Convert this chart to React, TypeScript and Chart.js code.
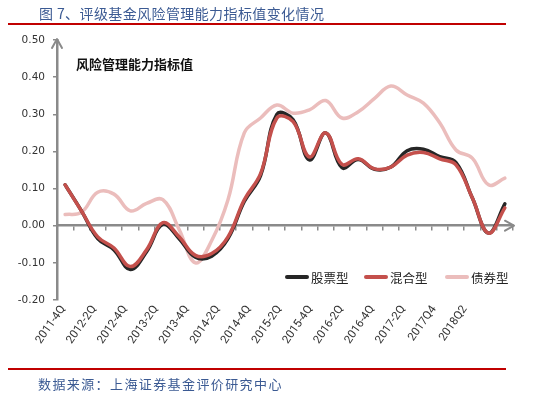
import React, { useEffect, useRef } from "react";
import { Chart, registerables } from "chart.js";

Chart.register(...registerables);

// Quarterly categories (one point per quarter)
const quarters = [
  "2011Q4", "2012Q1", "2012Q2", "2012Q3", "2012Q4", "2013Q1", "2013Q2",
  "2013Q3", "2013Q4", "2014Q1", "2014Q2", "2014Q3", "2014Q4", "2015Q1",
  "2015Q2", "2015Q3", "2015Q4", "2016Q1", "2016Q2", "2016Q3", "2016Q4",
  "2017Q1", "2017Q2", "2017Q3", "2017Q4", "2018Q1", "2018Q2", "2018Q3",
];

// Axis tick labels shown under the chart
const tickLabels = [
  "2011-4Q", "2012-2Q", "2012-4Q", "2013-2Q", "2013-4Q", "2014-2Q", "2014-4Q",
  "2015-2Q", "2015-4Q", "2016-2Q", "2016-4Q", "2017-2Q", "2017Q4", "2018Q2",
];

const yTicks = [-0.2, -0.1, 0, 0.1, 0.2, 0.3, 0.4, 0.5];

const stockValues = [
  0.11, 0.04, -0.035, -0.065, -0.118, -0.07, 0.004, -0.035, -0.085, -0.082,
  -0.035, 0.065, 0.135, 0.3, 0.285, 0.177, 0.25, 0.156, 0.178, 0.152, 0.158,
  0.202, 0.206, 0.186, 0.17, 0.075, -0.02, 0.059,
];

const mixedValues = [
  0.11, 0.04, -0.03, -0.06, -0.11, -0.065, 0.008, -0.03, -0.08, -0.075,
  -0.03, 0.07, 0.14, 0.29, 0.28, 0.185, 0.25, 0.165, 0.18, 0.153, 0.158,
  0.19, 0.197, 0.18, 0.164, 0.075, -0.02, 0.048,
];

const bondValues = [
  0.03, 0.036, 0.09, 0.085, 0.04, 0.06, 0.07, -0.01, -0.1, -0.04,
  0.07, 0.25, 0.29, 0.325, 0.303, 0.312, 0.337, 0.29, 0.307, 0.343, 0.376,
  0.352, 0.33, 0.277, 0.204, 0.182, 0.11, 0.128,
];

const seriesNames = ["股票型", "混合型", "债券型"];
const seriesColors = ["#262626", "#C4504C", "#EBBDBC"];

const AXIS_COLOR = "#8a8a8a";
const BLUE_TEXT = "#3b5a93";

const arrowPlugin = {
  id: "axisArrows",
  afterDraw(chart: any) {
    const { ctx, chartArea, scales } = chart;
    const y0 = scales.y.getPixelForValue(0);
    ctx.save();
    ctx.strokeStyle = AXIS_COLOR;
    ctx.lineWidth = 2;
    ctx.lineCap = "round";
    ctx.lineJoin = "round";
    ctx.beginPath();
    ctx.moveTo(chartArea.left - 5, chartArea.top + 8);
    ctx.lineTo(chartArea.left, chartArea.top - 1);
    ctx.lineTo(chartArea.left + 5, chartArea.top + 8);
    ctx.moveTo(chartArea.right - 8, y0 - 5);
    ctx.lineTo(chartArea.right + 1, y0);
    ctx.lineTo(chartArea.right - 8, y0 + 5);
    ctx.stroke();
    ctx.restore();
  },
};

function ChartCanvas() {
  const ref = useRef<HTMLCanvasElement | null>(null);

  useEffect(() => {
    if (!ref.current) return;
    const values = [stockValues, mixedValues, bondValues];
    const chart = new Chart(ref.current, {
      type: "line",
      data: {
        labels: quarters,
        datasets: values.map((v, i) => ({
          label: seriesNames[i],
          data: v,
          borderColor: seriesColors[i],
          backgroundColor: seriesColors[i],
          borderWidth: 3.5,
          pointRadius: 0,
          tension: 0.4,
          fill: false,
          borderCapStyle: "round",
          xAxisID: "x",
          yAxisID: "y",
          order: i === 1 ? 0 : i === 0 ? 1 : 2,
        })),
      },
      options: {
        responsive: false,
        animation: false,
        devicePixelRatio: 1,
        layout: { padding: { left: 0, top: 40, right: 37, bottom: 0 } },
        plugins: {
          legend: { display: false },
          tooltip: { enabled: false },
          title: { display: false },
        },
        scales: {
          x: {
            type: "category",
            position: { y: 0 } as any,
            offset: true,
            ticks: { display: false },
            grid: {
              display: true,
              drawOnChartArea: false,
              drawTicks: true,
              tickLength: 4,
              color: AXIS_COLOR,
              lineWidth: 1.5,
              offset: true,
            },
            border: { display: true, color: AXIS_COLOR, width: 2.5 },
          },
          x2: {
            type: "linear",
            position: "bottom",
            min: -0.2,
            max: -0.2 + 456 / 30.9,
            grid: { display: false, drawTicks: false },
            border: { display: false },
            afterBuildTicks: (scale: any) => {
              scale.ticks = tickLabels.map((_, i) => ({ value: i }));
            },
            afterFit: (scale: any) => {
              scale.height = 99;
            },
            ticks: {
              autoSkip: false,
              minRotation: 55,
              maxRotation: 55,
              padding: 3,
              color: "#333333",
              font: { family: "Roboto", size: 11.5 },
              callback: (v: any) => tickLabels[Math.round(Number(v))] ?? "",
            },
          },
          y: {
            type: "linear",
            position: "left",
            min: yTicks[0],
            max: yTicks[yTicks.length - 1],
            afterBuildTicks: (scale: any) => {
              scale.ticks = yTicks.map((v) => ({ value: v }));
            },
            afterFit: (scale: any) => {
              scale.width = 57;
            },
            grid: {
              display: true,
              drawOnChartArea: false,
              drawTicks: true,
              tickLength: 4,
              color: AXIS_COLOR,
              lineWidth: 1.5,
            },
            border: { display: true, color: AXIS_COLOR, width: 2.5 },
            ticks: {
              padding: 8,
              color: "#333333",
              font: { family: "DejaVu Sans", size: 10.5 },
              callback: (v: any) => Number(v).toFixed(2),
            },
          },
        },
      },
      plugins: [arrowPlugin],
    });
    return () => chart.destroy();
  }, []);

  return (
    <canvas
      ref={ref}
      width={550}
      height={399}
      style={{ position: "absolute", left: 0, top: 0, width: 550, height: 399 }}
    />
  );
}

function LegendItem({ color, text, left }: { color: string; text: string; left: number }) {
  return (
    <div style={{ position: "absolute", left, top: 268, display: "flex", alignItems: "center", height: 18 }}>
      <div style={{ width: 24, height: 3.5, background: color, borderRadius: 2 }} />
      <span style={{ marginLeft: 2, fontSize: 12.5, color: "#222", fontFamily: "'Noto Sans CJK SC', sans-serif" }}>
        {text}
      </span>
    </div>
  );
}

export default function App() {
  return (
    <div
      style={{
        position: "fixed",
        left: 0,
        top: 0,
        width: 550,
        height: 399,
        background: "#ffffff",
        overflow: "hidden",
      }}
    >
      <ChartCanvas />
      <div
        style={{
          position: "absolute",
          left: 39,
          top: 3,
          fontSize: 14,
          letterSpacing: 0.4,
          color: BLUE_TEXT,
          fontFamily: "'Noto Sans CJK SC', sans-serif",
          whiteSpace: "nowrap",
          lineHeight: "20px",
        }}
      >
        图 7、评级基金风险管理能力指标值变化情况
      </div>
      <div style={{ position: "absolute", left: 8, top: 23, width: 498, height: 2, background: "#C00000" }} />
      <div
        style={{
          position: "absolute",
          left: 76,
          top: 54,
          fontSize: 13,
          fontWeight: "bold",
          color: "#111",
          fontFamily: "'Noto Sans CJK SC', sans-serif",
          whiteSpace: "nowrap",
          lineHeight: "20px",
        }}
      >
        风险管理能力指标值
      </div>
      <LegendItem color={seriesColors[0]} text={seriesNames[0]} left={285} />
      <LegendItem color={seriesColors[1]} text={seriesNames[1]} left={364} />
      <LegendItem color={seriesColors[2]} text={seriesNames[2]} left={445} />
      <div style={{ position: "absolute", left: 8, top: 368, width: 498, height: 2, background: "#C00000" }} />
      <div
        style={{
          position: "absolute",
          left: 38,
          top: 374,
          fontSize: 13,
          letterSpacing: 1.4,
          color: BLUE_TEXT,
          fontFamily: "'Noto Sans CJK SC', sans-serif",
          whiteSpace: "nowrap",
          lineHeight: "20px",
        }}
      >
        数据来源：上海证券基金评价研究中心
      </div>
    </div>
  );
}
